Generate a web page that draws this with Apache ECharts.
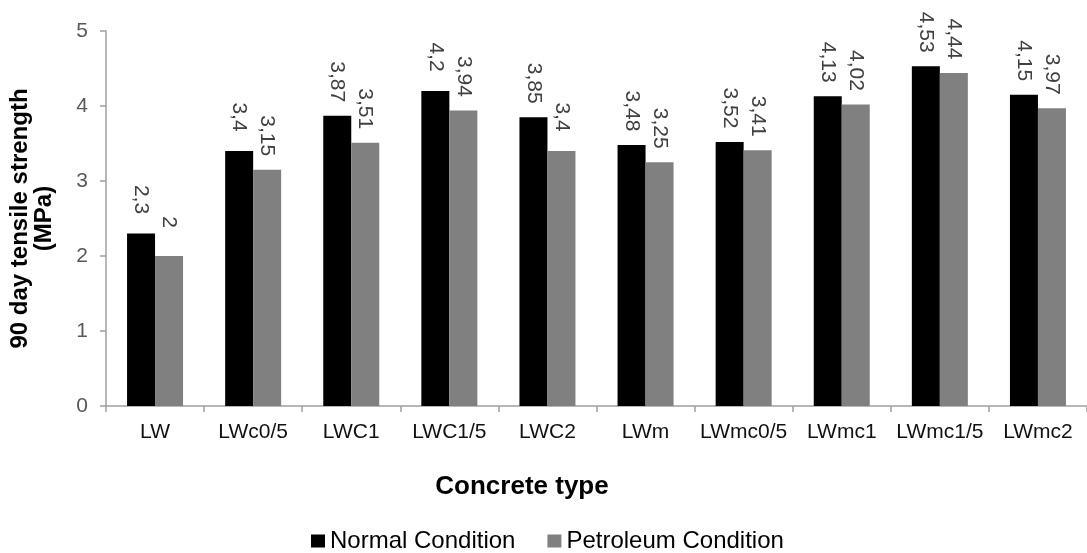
<!DOCTYPE html>
<html>
<head>
<meta charset="utf-8">
<script src="https://cdn.jsdelivr.net/npm/echarts@6/dist/echarts.min.js"></script>
<style>html,body{margin:0;padding:0;background:#fff}#c{width:1087px;height:553px}</style>
</head>
<body>
<div id="c"></div>
<script>
const categories = ['LW','LWc0/5','LWC1','LWC1/5','LWC2','LWm','LWmc0/5','LWmc1','LWmc1/5','LWmc2'];
const normal = [2.3,3.4,3.87,4.2,3.85,3.48,3.52,4.13,4.53,4.15];
const petroleum = [2.0,3.15,3.51,3.94,3.4,3.25,3.41,4.02,4.44,3.97];
const seriesNames = ['Normal Condition','Petroleum Condition'];
const yTicks = {min:0, max:5, interval:1};

const FONT = 'Liberation Sans, Arial, sans-serif';
const chart = echarts.init(document.getElementById('c'), null, {renderer:'canvas'});
const lbl = {
  show:true, position:'top', rotate:-90, distance:34,
  align:'center', verticalAlign:'middle',
  fontFamily:FONT, fontSize:21, color:'#404040',
  formatter: p => String(p.value).replace('.', ',')
};
chart.setOption({
  animation:false,
  textStyle:{fontFamily:FONT},
  title:{
    text:'Concrete type', left:517, top:469, textAlign:'center',
    textStyle:{fontFamily:FONT, fontSize:26, fontWeight:'bold', color:'#000'}
  },
  legend:{
    data:seriesNames, left:306, top:524, itemWidth:14, itemHeight:13, itemGap:32,
    icon:'rect',
    textStyle:{fontFamily:FONT, fontSize:24, color:'#000'}
  },
  grid:{left:106, right:-4, top:31, bottom:147, containLabel:false},
  xAxis:{
    type:'category', data:categories,
    axisLine:{lineStyle:{color:'#a0a0a0', width:1.5}},
    axisTick:{show:true, length:6, lineStyle:{color:'#a0a0a0', width:1.5}},
    axisLabel:{fontFamily:FONT, fontSize:21, color:'#111', margin:16, interval:0}
  },
  yAxis:{
    type:'value', min:yTicks.min, max:yTicks.max, interval:yTicks.interval,
    name:'90 day tensile strength\n(MPa)', nameLocation:'middle', nameGap:50,
    nameTextStyle:{fontFamily:FONT, fontSize:24, fontWeight:'bold', color:'#000', lineHeight:24},
    axisLine:{show:true, lineStyle:{color:'#a0a0a0', width:1.5}},
    axisTick:{show:true, length:6, lineStyle:{color:'#a0a0a0', width:1.5}},
    splitLine:{show:false},
    axisLabel:{fontFamily:FONT, fontSize:21, color:'#595959', margin:18}
  },
  series:[
    {name:seriesNames[0], type:'bar', data:normal, barWidth:28, barGap:'0%',
     itemStyle:{color:'#000'}, label:lbl},
    {name:seriesNames[1], type:'bar', data:petroleum, barWidth:28, barGap:'0%',
     itemStyle:{color:'#808080'}, label:lbl}
  ]
});
</script>
</body>
</html>
